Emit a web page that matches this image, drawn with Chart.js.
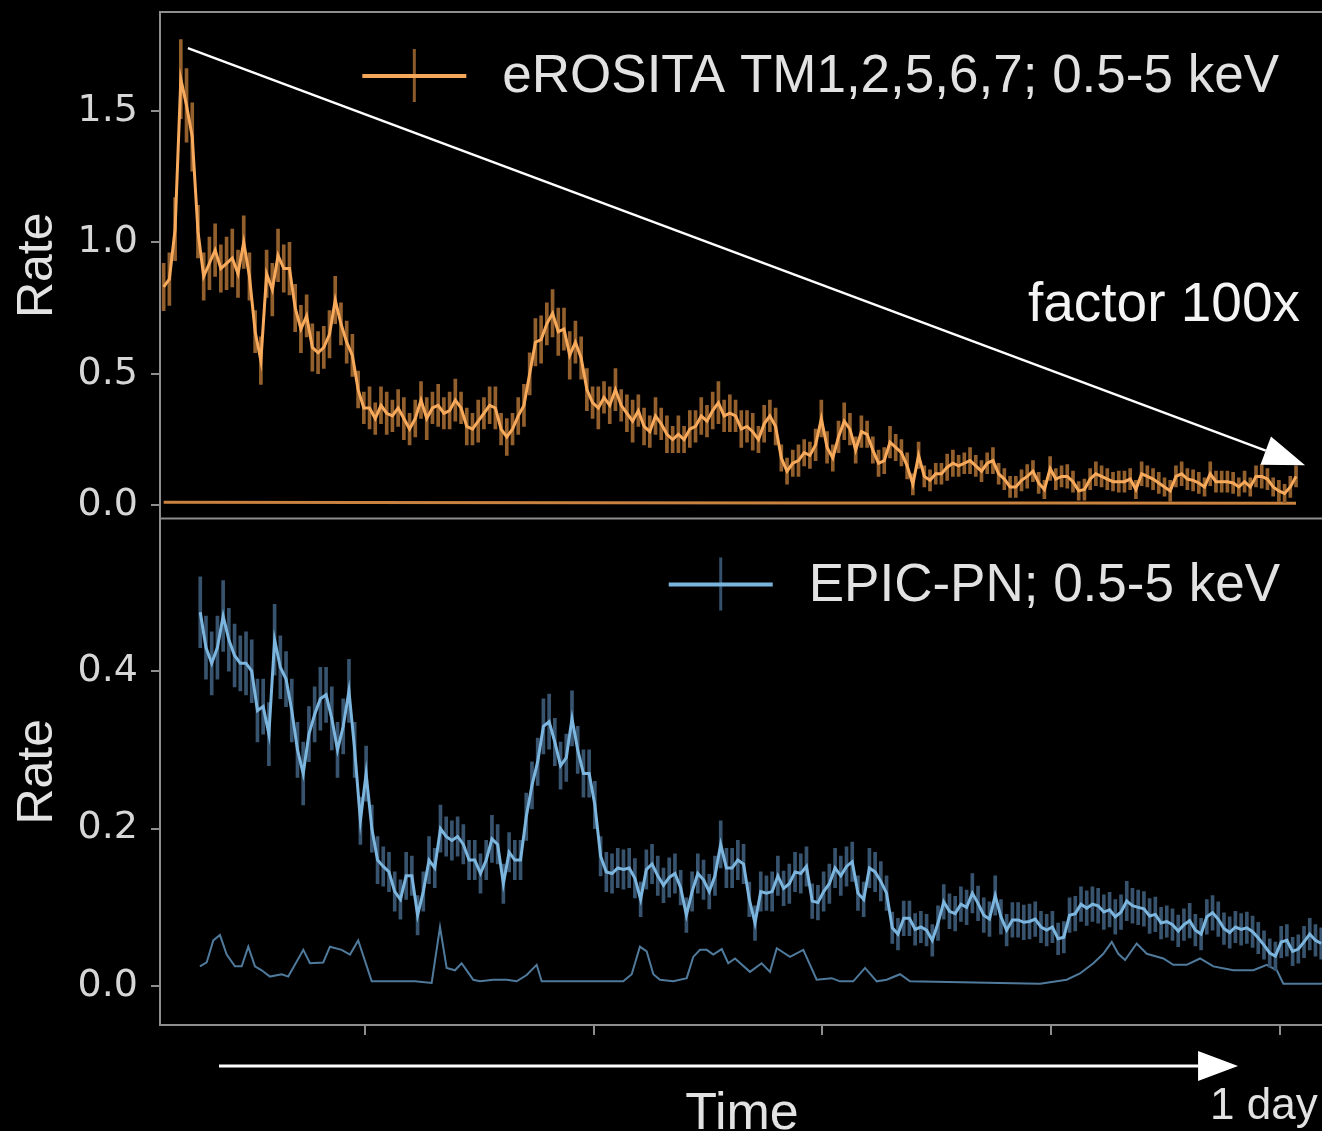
<!DOCTYPE html>
<html>
<head>
<meta charset="utf-8">
<script src="https://cdn.jsdelivr.net/npm/chart.js@4.4.1/dist/chart.umd.min.js"></script>
<style>
  html, body { margin: 0; padding: 0; background: #000; }
  #wrap { width: 1322px; height: 1131px; position: relative; }
</style>
</head>
<body>
<div id="wrap"><canvas id="lc"></canvas></div>
<script>
// light curves, binned on a regular time grid (same bin width for both)
const binWidth = 0.5;
const eroStart = 2.4;
const pnStart = 5.6;

const eroRate = [
  0.83, 0.86, 1.05, 1.62, 1.52, 1.40, 1.04, 0.87, 0.92, 0.97,
  0.90, 0.92, 0.94, 0.88, 1.00, 0.87, 0.66, 0.55, 0.88, 0.82,
  0.95, 0.90, 0.90, 0.75, 0.67, 0.72, 0.60, 0.58, 0.60, 0.65,
  0.78, 0.69, 0.62, 0.57, 0.44, 0.37, 0.37, 0.33, 0.38, 0.35,
  0.34, 0.37, 0.33, 0.29, 0.33, 0.40, 0.33, 0.37, 0.38, 0.35,
  0.36, 0.40, 0.37, 0.30, 0.29, 0.32, 0.35, 0.38, 0.37, 0.29,
  0.26, 0.29, 0.34, 0.38, 0.50, 0.62, 0.63, 0.69, 0.73, 0.66,
  0.67, 0.57, 0.62, 0.56, 0.44, 0.39, 0.37, 0.41, 0.38, 0.44,
  0.38, 0.35, 0.32, 0.36, 0.30, 0.28, 0.34, 0.31, 0.27, 0.25,
  0.27, 0.25, 0.29, 0.30, 0.34, 0.32, 0.36, 0.39, 0.34, 0.35,
  0.34, 0.29, 0.30, 0.28, 0.25, 0.31, 0.34, 0.30, 0.18, 0.13,
  0.16, 0.17, 0.20, 0.19, 0.23, 0.33, 0.22, 0.18, 0.26, 0.32,
  0.29, 0.21, 0.28, 0.27, 0.21, 0.16, 0.17, 0.24, 0.22, 0.20,
  0.15, 0.08, 0.19, 0.11, 0.095, 0.12, 0.12, 0.145, 0.16, 0.15,
  0.16, 0.17, 0.15, 0.13, 0.16, 0.17, 0.12, 0.10, 0.07, 0.07,
  0.095, 0.11, 0.13, 0.085, 0.06, 0.14, 0.10, 0.11, 0.11, 0.09,
  0.055, 0.06, 0.10, 0.12, 0.11, 0.10, 0.09, 0.09, 0.09, 0.10,
  0.06, 0.12, 0.11, 0.10, 0.085, 0.07, 0.055, 0.11, 0.12, 0.10,
  0.095, 0.085, 0.07, 0.12, 0.09, 0.09, 0.09, 0.085, 0.07, 0.09,
  0.07, 0.11, 0.11, 0.10, 0.07, 0.055, 0.045, 0.07, 0.11
];
const eroErr = [
  0.09, 0.10, 0.12, 0.15, 0.14, 0.13, 0.10, 0.09, 0.10, 0.10,
  0.09, 0.10, 0.11, 0.09, 0.10, 0.09, 0.08, 0.09, 0.09, 0.10,
  0.10, 0.09, 0.10, 0.09, 0.09, 0.08, 0.09, 0.08, 0.08, 0.09,
  0.09, 0.08, 0.08, 0.08, 0.07, 0.06, 0.08, 0.06, 0.07, 0.08,
  0.06, 0.07, 0.08, 0.06, 0.07, 0.07, 0.08, 0.06, 0.08, 0.06,
  0.07, 0.08, 0.06, 0.07, 0.06, 0.08, 0.06, 0.07, 0.08, 0.06,
  0.07, 0.06, 0.07, 0.08, 0.08, 0.09, 0.09, 0.08, 0.09, 0.09,
  0.08, 0.09, 0.08, 0.08, 0.08, 0.06, 0.08, 0.06, 0.07, 0.08,
  0.06, 0.07, 0.08, 0.06, 0.07, 0.06, 0.07, 0.06, 0.07, 0.05,
  0.07, 0.05, 0.07, 0.06, 0.07, 0.06, 0.07, 0.08, 0.06, 0.07,
  0.06, 0.07, 0.06, 0.07, 0.05, 0.07, 0.06, 0.07, 0.05, 0.05,
  0.05, 0.06, 0.05, 0.05, 0.06, 0.07, 0.06, 0.05, 0.06, 0.07,
  0.06, 0.05, 0.06, 0.05, 0.05, 0.05, 0.05, 0.06, 0.05, 0.05,
  0.05, 0.04, 0.05, 0.04, 0.04, 0.04, 0.04, 0.05, 0.05, 0.04,
  0.04, 0.05, 0.04, 0.04, 0.04, 0.05, 0.04, 0.04, 0.04, 0.04,
  0.04, 0.045, 0.04, 0.04, 0.035, 0.045, 0.04, 0.04, 0.045, 0.04,
  0.035, 0.04, 0.04, 0.045, 0.04, 0.04, 0.035, 0.04, 0.04, 0.04,
  0.035, 0.045, 0.04, 0.04, 0.04, 0.035, 0.04, 0.04, 0.045, 0.04,
  0.04, 0.04, 0.035, 0.045, 0.04, 0.04, 0.04, 0.04, 0.035, 0.04,
  0.035, 0.04, 0.045, 0.04, 0.035, 0.04, 0.035, 0.04, 0.04
];

const pnRate = [
  0.475, 0.43, 0.41, 0.43, 0.47, 0.44, 0.42, 0.41, 0.41, 0.40,
  0.35, 0.355, 0.32, 0.44, 0.405, 0.39, 0.35, 0.30, 0.27, 0.32,
  0.345, 0.365, 0.37, 0.34, 0.30, 0.33, 0.375, 0.30, 0.21, 0.27,
  0.20, 0.16, 0.152, 0.145, 0.12, 0.11, 0.14, 0.14, 0.09, 0.12,
  0.16, 0.15, 0.20, 0.19, 0.185, 0.19, 0.18, 0.16, 0.16, 0.143,
  0.16, 0.187, 0.18, 0.13, 0.17, 0.16, 0.16, 0.215, 0.255, 0.285,
  0.33, 0.336, 0.31, 0.28, 0.29, 0.34, 0.30, 0.27, 0.27, 0.23,
  0.165, 0.145, 0.143, 0.15, 0.148, 0.15, 0.137, 0.11, 0.148, 0.155,
  0.14, 0.128, 0.138, 0.143, 0.125, 0.09, 0.12, 0.143, 0.135, 0.12,
  0.14, 0.18, 0.15, 0.15, 0.16, 0.155, 0.11, 0.08, 0.12, 0.118,
  0.12, 0.14, 0.124, 0.13, 0.145, 0.143, 0.152, 0.108, 0.106, 0.12,
  0.13, 0.15, 0.14, 0.152, 0.158, 0.118, 0.11, 0.15, 0.145, 0.133,
  0.118, 0.074, 0.066, 0.086, 0.086, 0.072, 0.075, 0.071, 0.058, 0.08,
  0.107, 0.095, 0.092, 0.104, 0.10, 0.118, 0.105, 0.09, 0.085, 0.115,
  0.088, 0.071, 0.084, 0.084, 0.081, 0.082, 0.085, 0.075, 0.071, 0.075,
  0.06, 0.062, 0.09, 0.092, 0.104, 0.099, 0.104, 0.102, 0.094, 0.097,
  0.088, 0.094, 0.108, 0.102, 0.10, 0.098, 0.089, 0.091, 0.08, 0.082,
  0.078, 0.07, 0.078, 0.083, 0.071, 0.066, 0.088, 0.093, 0.085, 0.073,
  0.068, 0.075, 0.072, 0.074, 0.069, 0.061, 0.052, 0.042, 0.038, 0.056,
  0.058, 0.044, 0.047, 0.056, 0.066, 0.058, 0.054
];
const pnErr = [
  0.045, 0.04, 0.04, 0.04, 0.045, 0.04, 0.04, 0.035, 0.04, 0.04,
  0.04, 0.035, 0.04, 0.045, 0.04, 0.035, 0.04, 0.035, 0.04, 0.035,
  0.035, 0.04, 0.035, 0.04, 0.035, 0.035, 0.04, 0.035, 0.03, 0.035,
  0.03, 0.03, 0.025, 0.025, 0.025, 0.025, 0.03, 0.025, 0.025, 0.025,
  0.03, 0.025, 0.03, 0.025, 0.025, 0.025, 0.025, 0.025, 0.025, 0.025,
  0.025, 0.03, 0.025, 0.025, 0.025, 0.025, 0.025, 0.03, 0.03, 0.03,
  0.035, 0.035, 0.03, 0.03, 0.03, 0.035, 0.03, 0.03, 0.03, 0.03,
  0.025, 0.025, 0.025, 0.025, 0.025, 0.025, 0.025, 0.022, 0.025, 0.025,
  0.025, 0.022, 0.025, 0.025, 0.022, 0.022, 0.025, 0.025, 0.025, 0.022,
  0.025, 0.03, 0.025, 0.025, 0.025, 0.025, 0.022, 0.022, 0.025, 0.022,
  0.025, 0.025, 0.022, 0.025, 0.025, 0.025, 0.025, 0.022, 0.022, 0.025,
  0.025, 0.025, 0.025, 0.025, 0.025, 0.022, 0.022, 0.025, 0.025, 0.025,
  0.022, 0.02, 0.02, 0.022, 0.022, 0.02, 0.02, 0.02, 0.02, 0.022,
  0.022, 0.022, 0.022, 0.022, 0.022, 0.025, 0.022, 0.022, 0.022, 0.025,
  0.022, 0.02, 0.022, 0.022, 0.022, 0.022, 0.022, 0.02, 0.02, 0.02,
  0.02, 0.02, 0.022, 0.022, 0.022, 0.022, 0.022, 0.022, 0.022, 0.022,
  0.022, 0.022, 0.025, 0.022, 0.022, 0.022, 0.022, 0.022, 0.02, 0.02,
  0.02, 0.02, 0.02, 0.022, 0.02, 0.02, 0.022, 0.022, 0.022, 0.02,
  0.02, 0.02, 0.02, 0.02, 0.02, 0.02, 0.018, 0.018, 0.018, 0.02,
  0.02, 0.018, 0.018, 0.02, 0.02, 0.02, 0.02
];

// background light curves
const eroBkgTime = [2.4, 20, 40, 60, 80, 101.4];
const eroBkg = [0.012, 0.011, 0.010, 0.009, 0.009, 0.008];
const pnBkgTime = [
  5.57, 6.16, 6.74, 7.32, 7.91, 8.63, 9.22, 9.80, 10.38, 10.97,
  11.69, 12.72, 13.29, 14.61, 15.19, 16.35, 16.94, 17.96, 18.69, 19.41,
  20.59, 22.04, 24.37, 25.83, 26.56, 27.14, 27.87, 28.45, 28.89, 29.47,
  30.05, 31.22, 32.39, 33.26, 34.14, 35.01, 35.45, 38.21, 41.13, 42.58,
  43.32, 44.04, 44.63, 45.21, 45.79, 46.96, 48.13, 48.70, 49.29, 49.88,
  50.45, 51.19, 51.76, 52.35, 53.66, 54.68, 55.41, 56.00, 57.16, 58.32,
  59.49, 60.80, 61.53, 62.69, 63.72, 64.74, 65.61, 66.78, 67.65, 75.52,
  79.02, 81.35, 82.51, 83.68, 84.55, 85.29, 85.86, 86.45, 87.47, 88.35,
  89.80, 90.67, 91.84, 93.01, 94.17, 95.92, 97.67, 98.84, 99.72, 100.29,
  103.67
];
const pnBkg = [
  0.025, 0.03, 0.058, 0.065, 0.04, 0.025, 0.025, 0.05, 0.025, 0.02,
  0.012, 0.015, 0.012, 0.046, 0.029, 0.03, 0.05, 0.046, 0.04, 0.058,
  0.006, 0.006, 0.006, 0.004, 0.075, 0.023, 0.02, 0.029, 0.02, 0.008,
  0.006, 0.008, 0.008, 0.006, 0.014, 0.027, 0.006, 0.006, 0.006, 0.006,
  0.015, 0.05, 0.044, 0.015, 0.008, 0.006, 0.01, 0.037, 0.046, 0.046,
  0.04, 0.047, 0.029, 0.035, 0.018, 0.029, 0.018, 0.048, 0.037, 0.046,
  0.008, 0.01, 0.006, 0.006, 0.023, 0.006, 0.008, 0.015, 0.006, 0.004,
  0.003, 0.008, 0.016, 0.029, 0.041, 0.056, 0.041, 0.033, 0.054, 0.041,
  0.035, 0.027, 0.027, 0.035, 0.025, 0.02, 0.02, 0.027, 0.02, 0.003,
  0.003
];

const timeTicks = [20, 40, 60, 80, 100];
const topTicks = [0, 0.5, 1.0, 1.5];
const bottomTicks = [0, 0.2, 0.4];

function curve(start, rates) {
  return rates.map((r, i) => ({ x: start + i * binWidth, y: r }));
}
function errBars(start, rates, errs) {
  return rates.map((r, i) => ({ x: start + i * binWidth, y: [r - errs[i], r + errs[i]] }));
}
function pairs(times, vals) {
  return times.map((t, i) => ({ x: t, y: vals[i] }));
}

const SPINE = '#8e8e8e';
const TEXT = '#e2e2e2';

function arrow(ctx, x0, y0, x1, y1, lw, headLen, headHalf) {
  const a = Math.atan2(y1 - y0, x1 - x0);
  const bx = x1 - headLen * Math.cos(a), by = y1 - headLen * Math.sin(a);
  ctx.strokeStyle = '#fff';
  ctx.fillStyle = '#fff';
  ctx.lineWidth = lw;
  ctx.beginPath();
  ctx.moveTo(x0, y0);
  ctx.lineTo(bx, by);
  ctx.stroke();
  ctx.beginPath();
  ctx.moveTo(x1, y1);
  ctx.lineTo(bx + headHalf * Math.sin(a), by - headHalf * Math.cos(a));
  ctx.lineTo(bx - headHalf * Math.sin(a), by + headHalf * Math.cos(a));
  ctx.closePath();
  ctx.fill();
}

function legendEntry(ctx, label, rightX, cy, lineColor, errColor) {
  ctx.font = '53px "Liberation Sans", Arial, sans-serif';
  const w = ctx.measureText(label).width;
  const tx = rightX - w;
  const hx1 = tx - 36, hx0 = hx1 - 104, hm = (hx0 + hx1) / 2;
  ctx.strokeStyle = errColor;
  ctx.lineWidth = 3;
  ctx.beginPath();
  ctx.moveTo(hm, cy - 27);
  ctx.lineTo(hm, cy + 26);
  ctx.stroke();
  ctx.strokeStyle = lineColor;
  ctx.lineWidth = 4;
  ctx.beginPath();
  ctx.moveTo(hx0, cy);
  ctx.lineTo(hx1, cy);
  ctx.stroke();
  ctx.fillStyle = TEXT;
  ctx.textAlign = 'left';
  ctx.textBaseline = 'alphabetic';
  ctx.fillText(label, tx, cy + 16);
}

const extras = {
  id: 'extras',
  afterDraw(chart) {
    const { ctx, chartArea, scales } = chart;
    const x = scales.x, yt = scales.yTop, yb = scales.yBot;
    ctx.save();
    // top edge and the line between the two panels
    ctx.strokeStyle = SPINE;
    ctx.lineWidth = 2;
    ctx.beginPath();
    ctx.moveTo(chartArea.left, yt.top);
    ctx.lineTo(chartArea.right, yt.top);
    ctx.moveTo(chartArea.left, yt.bottom);
    ctx.lineTo(chartArea.right, yt.bottom);
    ctx.stroke();

    // decay arrow
    arrow(ctx, x.getPixelForValue(4.52), yt.getPixelForValue(1.738),
      x.getPixelForValue(102.19), yt.getPixelForValue(0.152), 2.5, 42, 15);
    ctx.font = '55px "Liberation Sans", Arial, sans-serif';
    ctx.fillStyle = '#f4f4f4';
    ctx.textAlign = 'right';
    ctx.textBaseline = 'alphabetic';
    ctx.fillText('factor 100x', chartArea.right - 22, yt.getPixelForValue(0.70));

    // time arrow under the axis
    arrow(ctx, x.getPixelForValue(7.24), x.top + 41, x.getPixelForValue(96.33), x.top + 41, 3, 40, 15);
    ctx.font = '52px "Liberation Sans", Arial, sans-serif';
    ctx.fillStyle = TEXT;
    ctx.textAlign = 'center';
    ctx.fillText('Time', x.getPixelForValue(52.96), x.top + 104);
    ctx.font = '44px "Liberation Sans", Arial, sans-serif';
    ctx.textAlign = 'left';
    ctx.fillText('1 day', x.getPixelForValue(93.88), x.top + 94);

    // legends
    legendEntry(ctx, 'eROSITA TM1,2,5,6,7; 0.5-5 keV', chartArea.right - 43, yt.top + 64, '#f5a75a', '#8c5b2b');
    legendEntry(ctx, 'EPIC-PN; 0.5-5 keV', chartArea.right - 42, yb.top + 66, '#7ab3db', '#35506a');
    ctx.restore();
  }
};

function yScale(min, max, ticks, weight) {
  return {
    type: 'linear',
    position: 'left',
    stack: 'panels',
    stackWeight: 1,
    weight: weight,
    min: min,
    max: max,
    afterFit: s => { s.width = 160; s.paddingTop = 0; s.paddingBottom = 0; },
    afterBuildTicks: s => { s.ticks = ticks.map(v => ({ value: v })); },
    grid: { drawOnChartArea: false, tickLength: 9, color: SPINE, lineWidth: 2 },
    border: { color: SPINE, width: 2 },
    ticks: {
      color: '#d6d6d6',
      padding: 13,
      font: { family: 'DejaVu Sans', size: 38 },
      callback: v => v.toFixed(1)
    },
    title: {
      display: true,
      text: 'Rate',
      color: TEXT,
      font: { family: 'Liberation Sans', size: 50 },
      padding: { top: 8, bottom: 0 }
    }
  };
}

new Chart(document.getElementById('lc'), {
  type: 'line',
  data: {
    datasets: [
      { label: 'eROSITA TM1,2,5,6,7; 0.5-5 keV', data: curve(eroStart, eroRate), yAxisID: 'yTop',
        borderColor: '#f8aa5c', borderWidth: 3, pointRadius: 0, order: 1 },
      { type: 'bar', label: 'eROSITA err', data: errBars(eroStart, eroRate, eroErr), yAxisID: 'yTop',
        backgroundColor: '#93602d', barThickness: 3, grouped: false, order: 2 },
      { label: 'eROSITA bkg', data: pairs(eroBkgTime, eroBkg), yAxisID: 'yTop',
        borderColor: '#c9823f', borderWidth: 3, pointRadius: 0, order: 3 },
      { label: 'EPIC-PN; 0.5-5 keV', data: curve(pnStart, pnRate), yAxisID: 'yBot',
        borderColor: '#7cb5dd', borderWidth: 3, pointRadius: 0, order: 1 },
      { type: 'bar', label: 'EPIC-PN err', data: errBars(pnStart, pnRate, pnErr), yAxisID: 'yBot',
        backgroundColor: '#37536d', barThickness: 3, grouped: false, order: 2 },
      { label: 'EPIC-PN bkg', data: pairs(pnBkgTime, pnBkg), yAxisID: 'yBot',
        borderColor: '#4f7a9c', borderWidth: 2, pointRadius: 0, order: 3 }
    ]
  },
  options: {
    responsive: true,
    maintainAspectRatio: false,
    animation: false,
    layout: { padding: { top: 12, left: 0, right: 0, bottom: 0 } },
    plugins: { legend: { display: false }, tooltip: { enabled: false } },
    scales: {
      x: {
        type: 'linear',
        min: 2.08,
        max: 103.67,
        offset: false,
        afterFit: s => { s.height = 106; s.paddingLeft = 0; s.paddingRight = 0; },
        afterBuildTicks: s => { s.ticks = timeTicks.map(v => ({ value: v })); },
        grid: { offset: false, drawOnChartArea: false, tickLength: 10, color: SPINE, lineWidth: 2 },
        border: { color: SPINE, width: 2 },
        ticks: { callback: () => '' }
      },
      yBot: yScale(-0.0495, 0.594, bottomTicks, 1),
      yTop: yScale(-0.05, 1.875, topTicks, 2)
    }
  },
  plugins: [extras]
});
</script>
</body>
</html>
